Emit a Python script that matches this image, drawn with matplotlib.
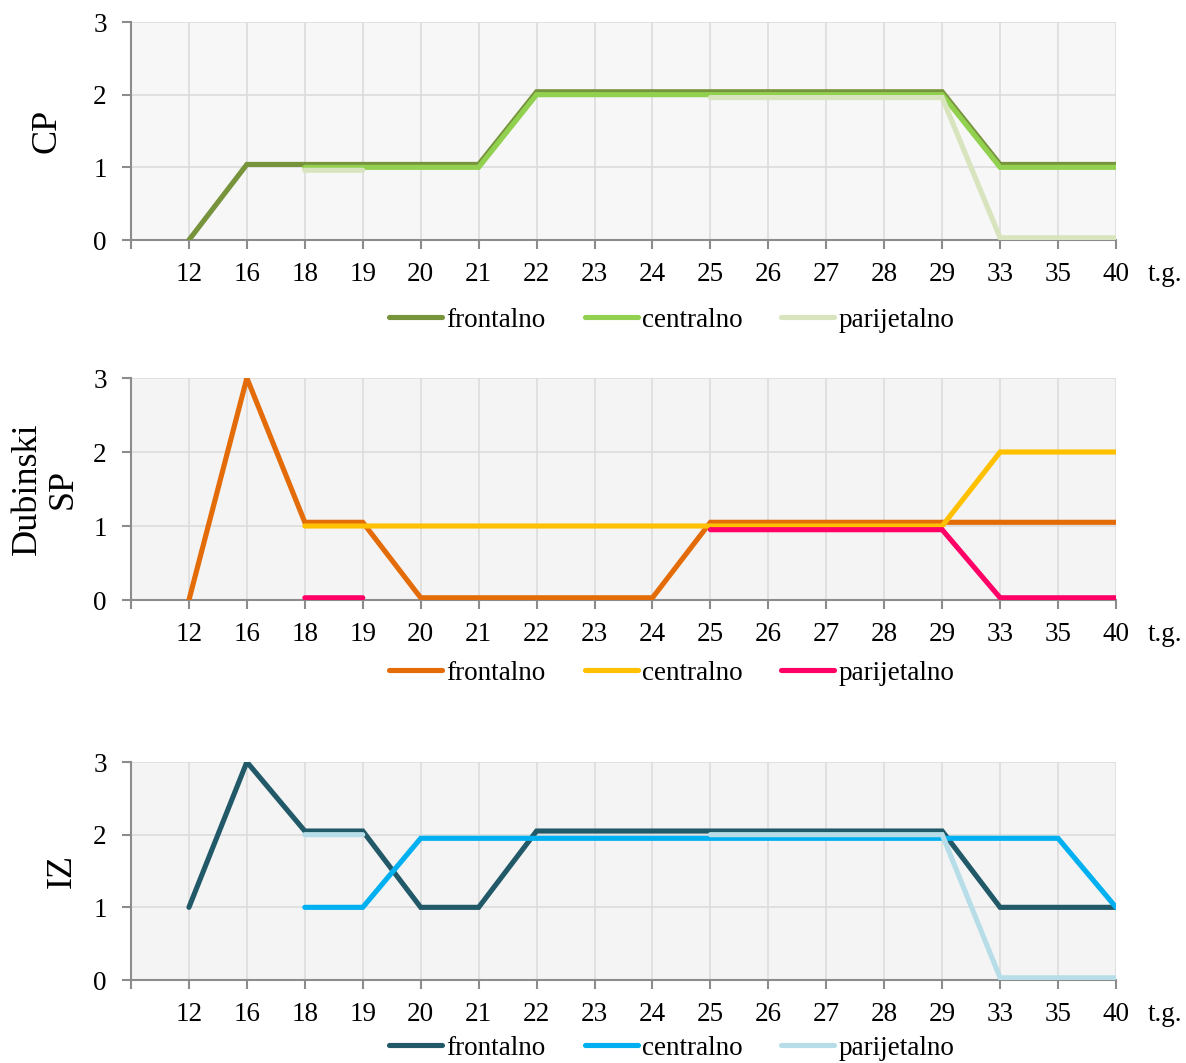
import numpy as np
import matplotlib
matplotlib.use("Agg")
import matplotlib.pyplot as plt

nan = np.nan
weeks = ["12", "16", "18", "19", "20", "21", "22", "23", "24", "25", "26", "27", "28", "29", "33", "35", "40"]
series_names = ["frontalno", "centralno", "parijetalno"]

# CP
cp_frontalno   = [0, 1.04, 1.04, 1.04, 1.04, 1.04, 2.04, 2.04, 2.04, 2.04, 2.04, 2.04, 2.04, 2.04, 1.04, 1.04, 1.04]
cp_centralno   = [nan, nan, 1.0, 1.0, 1.0, 1.0, 2.0, 2.0, 2.0, 2.0, 2.0, 2.0, 2.0, 2.0, 1.0, 1.0, 1.0]
cp_parijetalno = [nan, nan, 0.96, 0.96, nan, nan, nan, nan, nan, 1.96, 1.96, 1.96, 1.96, 1.96, 0.03, 0.03, 0.03]

# Dubinski SP
sp_frontalno   = [0, 3, 1.05, 1.05, 0.03, 0.03, 0.03, 0.03, 0.03, 1.05, 1.05, 1.05, 1.05, 1.05, 1.05, 1.05, 1.05]
sp_centralno   = [nan, nan, 1.0, 1.0, 1.0, 1.0, 1.0, 1.0, 1.0, 1.0, 1.0, 1.0, 1.0, 1.0, 2.0, 2.0, 2.0]
sp_parijetalno = [nan, nan, 0.03, 0.03, nan, nan, nan, nan, nan, 0.95, 0.95, 0.95, 0.95, 0.95, 0.03, 0.03, 0.03]

# IZ
iz_frontalno   = [1, 3, 2.05, 2.05, 1.0, 1.0, 2.05, 2.05, 2.05, 2.05, 2.05, 2.05, 2.05, 2.05, 1.0, 1.0, 1.0]
iz_centralno   = [nan, nan, 1.0, 1.0, 1.95, 1.95, 1.95, 1.95, 1.95, 1.95, 1.95, 1.95, 1.95, 1.95, 1.95, 1.95, 1.0]
iz_parijetalno = [nan, nan, 2.0, 2.0, nan, nan, nan, nan, nan, 2.0, 2.0, 2.0, 2.0, 2.0, 0.03, 0.03, 0.03]

panels = [
    ("CP", [cp_frontalno, cp_centralno, cp_parijetalno], ["#77933C", "#92D050", "#D7E4BD"], "#F7F7F7"),
    ("Dubinski\nSP", [sp_frontalno, sp_centralno, sp_parijetalno], ["#E36C09", "#FFC000", "#FF0066"], "#F4F4F4"),
    ("IZ", [iz_frontalno, iz_centralno, iz_parijetalno], ["#215968", "#00B0F0", "#B7DEE8"], "#F4F4F4"),
]

plt.rcParams['font.family'] = ['Liberation Serif', 'DejaVu Serif']

fig = plt.figure(figsize=(11.86, 10.63), dpi=100)
W, H = 1186, 1063
boxes = [(22, 240), (378, 600), (762, 980)]
left_px, right_px = 131, 1116
label_x = [-0.0853, -0.0873, -0.070]
legend_y = [-0.367, -0.329, -0.312]

x = np.arange(len(weeks))
for i, (title, data, colors, bg) in enumerate(panels):
    top, bot = boxes[i]
    ax = fig.add_axes([left_px / W, 1 - bot / H, (right_px - left_px) / W, (bot - top) / H])
    ax.set_facecolor(bg)
    for vals, c, name in zip(data, colors, series_names):
        ax.plot(x, vals, color=c, lw=3.7, solid_capstyle='round', solid_joinstyle='miter', label=name, zorder=3)
    ax.set_xlim(-1, len(weeks) - 1)
    ax.set_ylim(0, 3)
    ax.set_xticks(np.arange(-1, len(weeks)))
    ax.set_xticklabels([""] + weeks)
    ax.set_yticks([0, 1, 2, 3])
    ax.grid(True, color="#DCDCDC", lw=1.2, zorder=0)
    ax.set_axisbelow(True)
    for s in ["top", "right"]:
        ax.spines[s].set_visible(False)
    for s in ["left", "bottom"]:
        ax.spines[s].set_color("#8C8C8C")
        ax.spines[s].set_linewidth(1.5)
        ax.spines[s].set_zorder(2)
    ax.tick_params(axis='both', direction='out', length=6.5, width=1.5, color="#8C8C8C",
                   labelsize=19.5, labelcolor="black")
    ax.tick_params(axis='x', pad=9.5)
    ax.tick_params(axis='y', pad=11)
    ax.text(label_x[i], 0.5, title, transform=ax.transAxes, rotation=90,
            ha='center', va='center', fontsize=26, linespacing=1.1)
    ax.annotate("t.g.", xy=(1.0, 0), xycoords='axes fraction', xytext=(23, -16),
                textcoords='offset points', ha='left', va='top', fontsize=19.5)
    ax.legend(loc='center', bbox_to_anchor=(0.549, legend_y[i]), ncol=3, frameon=False,
              fontsize=19.5, handlelength=1.95, handletextpad=0.15, columnspacing=1.45,
              borderpad=0.1)

fig.savefig("out.png", dpi=100)
